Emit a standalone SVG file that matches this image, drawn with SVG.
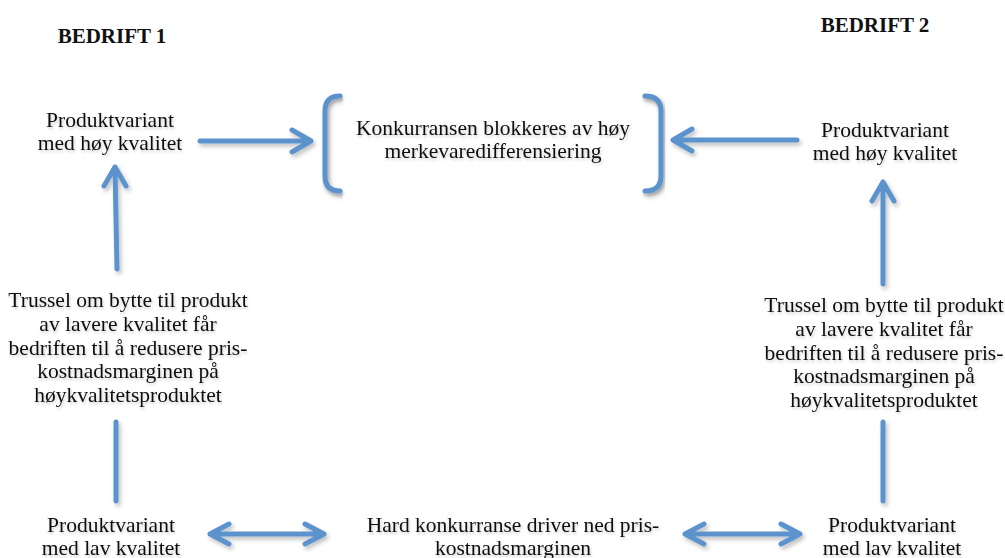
<svg xmlns="http://www.w3.org/2000/svg" width="1005" height="558" viewBox="0 0 1005 558">
<defs>
<style>
text{font-family:"Liberation Serif","Times New Roman",serif;font-size:21.5px;fill:#111;text-anchor:middle}
.h{font-weight:bold;font-size:21px}
.c{fill:none;stroke:#5b93cd;stroke-width:5;stroke-linecap:round;stroke-linejoin:round}
.t{filter:url(#ts)}
</style>
<filter id="sh" x="-20%" y="-20%" width="140%" height="160%">
<feDropShadow dx="2" dy="3" stdDeviation="2" flood-color="#000" flood-opacity="0.25"/>
</filter>
<filter id="ts" x="-10%" y="-20%" width="120%" height="160%">
<feDropShadow dx="1" dy="2" stdDeviation="1.5" flood-color="#000" flood-opacity="0.2"/>
</filter>
</defs>
<rect width="1005" height="558" fill="#fff"/>
<g id="label-bedrift1"><text class="h" x="112" y="43">BEDRIFT 1</text></g>
<g id="label-bedrift2"><text class="h" x="875" y="32">BEDRIFT 2</text></g>
<g id="n-hoy1" class="t"><text x="110" y="127">Produktvariant</text><text x="110" y="150">med høy kvalitet</text></g>
<g id="n-center" class="t">
<path class="c" d="M340 96 Q325 96 325 111 L325 176 Q325 191 340 191" filter="url(#sh)"/>
<path class="c" d="M645 96 Q661 96 661 111 L661 176 Q661 191 645 191" filter="url(#sh)"/>
<text x="493" y="135">Konkurransen blokkeres av høy</text><text x="493" y="158">merkevaredifferensiering</text></g>
<g id="n-hoy2" class="t"><text x="885" y="137">Produktvariant</text><text x="885" y="160">med høy kvalitet</text></g>
<g id="n-trussel1" class="t"><text x="128" y="307">Trussel om bytte til produkt</text><text x="128" y="331">av lavere kvalitet får</text><text x="128" y="355">bedriften til å redusere pris-</text><text x="128" y="378">kostnadsmarginen på</text><text x="128" y="402">høykvalitetsproduktet</text></g>
<g id="n-trussel2" class="t"><text x="884" y="312">Trussel om bytte til produkt</text><text x="884" y="336">av lavere kvalitet får</text><text x="884" y="360">bedriften til å redusere pris-</text><text x="884" y="383">kostnadsmarginen på</text><text x="884" y="407">høykvalitetsproduktet</text></g>
<g id="n-lav1" class="t"><text x="111" y="532">Produktvariant</text><text x="111" y="555">med lav kvalitet</text></g>
<g id="n-hard" class="t"><text x="513" y="532">Hard konkurranse driver ned pris-</text><text x="513" y="555">kostnadsmarginen</text></g>
<g id="n-lav2" class="t"><text x="892" y="532">Produktvariant</text><text x="892" y="555">med lav kvalitet</text></g>
<g id="connectors" filter="url(#sh)">
<path class="c" d="M200 141 L311 141 M292 130 L311 141 L292 152"/>
<path class="c" d="M797 140 L673 140 M692 129 L673 140 L692 151"/>
<path class="c" d="M117 269 L115 167 M104 186 L115 167 L126 186"/>
<path class="c" d="M883 284 L883 182 M872 201 L883 182 L894 201"/>
<path class="c" d="M116 422 L116 501"/>
<path class="c" d="M883 422 L883 501"/>
<path class="c" d="M210 534 L324 534 M229 524 L210 534 L229 544 M305 524 L324 534 L305 544"/>
<path class="c" d="M685 534 L800 534 M704 524 L685 534 L704 544 M781 524 L800 534 L781 544"/>
</g>
</svg>
